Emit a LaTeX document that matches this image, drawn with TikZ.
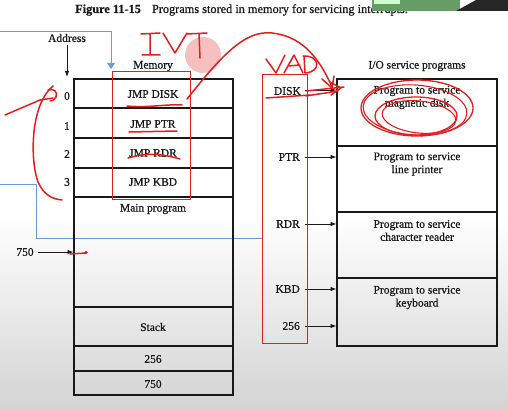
\documentclass[tikz,border=0pt]{standalone}
\usepackage{fontspec}
\setmainfont{Liberation Serif}
\newfontfamily\scanfont{Liberation Serif}[FakeBold=0.7]
\usetikzlibrary{arrows.meta,shapes.geometric}
\definecolor{penred}{RGB}{228,30,30}
\definecolor{selblue}{RGB}{110,155,215}
\definecolor{ink}{RGB}{25,25,25}
\begin{document}
\begin{tikzpicture}[x=1pt,y=-1pt,
  lbl/.style={font=\scanfont\fontsize{11.5}{13}\selectfont, text=ink, inner sep=0pt},
  frame/.style={draw=ink, line width=1.3pt},
  arr/.style={-{Latex[length=6pt,width=4.5pt]}, line width=0.9pt, draw=ink},
  hand/.style={draw=penred, line width=1.5pt, line cap=round, line join=round},
  penbox/.style={draw=penred, line width=1pt},
  sel/.style={draw=selblue, line width=0.7pt}]
\useasboundingbox (0,0) rectangle (508,409);
\fill[white] (0,0) rectangle (508,409);
\shade[top color=white, bottom color=black!17] (0,215) rectangle (508,409);

% selection lines (blue)
\draw[sel] (0,31) -- (111,31) -- (111,64);
\fill[selblue] (107,63) -- (115,63) -- (111,69) -- cycle;
\draw[sel] (0,184) -- (36,184) -- (36,238) -- (262,238);

% title
\node[anchor=west, font=\scanfont\fontsize{12.3}{14}\selectfont, text=ink, inner sep=0pt] (title) at (75,10)
  {\textbf{Figure 11-15}\hspace{0.9em}Programs stored in memory for servicing interrupts.};

% memory
\draw[frame] (74,79) rectangle (233,395);
\foreach \y in {108,138,168,197,307,346,371} \draw[frame] (74,\y) -- (233,\y);
\node[lbl] (memlbl) at (153,66) {Memory};
\node[lbl] (jdisk) at (153,94) {JMP DISK};
\node[lbl] (jptr) at (153,124) {JMP PTR};
\node[lbl] (jrdr) at (153,153) {JMP RDR};
\node[lbl] (jkbd) at (153,182) {JMP KBD};
\node[lbl] (mainp) at (153,209) {Main program};
\node[lbl] (stack) at (153,327) {Stack};
\node[lbl] (m256) at (153,359) {256};
\node[lbl] (m750) at (153,384) {750};

% addresses
\node[lbl] (addr) at (67,38) {Address};
\coordinate (addrend) at (67,77);
\draw[arr] (addr.south) ++(0,3) -- (addrend);
\node[lbl] (a0) at (67,96) {0};
\node[lbl] (a1) at (67,126) {1};
\node[lbl] (a2) at (67,154) {2};
\node[lbl] (a3) at (67,182) {3};
\node[lbl] (l750) at (25,252) {750};
\coordinate (m750in) at (73.5,252);
\draw[arr] (l750.east) ++(4,0) -- (m750in);

% I/O service programs
\draw[frame] (337,79) rectangle (497,346);
\foreach \y in {146,212,278} \draw[frame] (337,\y) -- (497,\y);
\node[lbl] (iolbl) at (417,66) {I/O service programs};
\node[lbl, align=center] (pdisk) at (417,97.5) {Program to service\\magnetic disk};
\node[lbl, align=center] (pptr) at (417,164) {Program to service\\line printer};
\node[lbl, align=center] (prdr) at (417,230.5) {Program to service\\character reader};
\node[lbl, align=center] (pkbd) at (417,297.5) {Program to service\\keyboard};

% vector addresses
\node[lbl, anchor=east] (vdisk) at (301,91) {DISK};
\node[lbl, anchor=east] (vptr) at (300,157) {PTR};
\node[lbl, anchor=east] (vrdr) at (300,224) {RDR};
\node[lbl, anchor=east] (vkbd) at (300,289) {KBD};
\node[lbl, anchor=east] (v256) at (300,326) {256};
\coordinate (tdisk) at (336.5,90);
\coordinate (tptr) at (336.5,157);
\coordinate (trdr) at (336.5,224);
\coordinate (tkbd) at (336.5,289);
\coordinate (t256) at (336.5,326);
\draw[arr] (vdisk.east) ++(4,-1) -- (tdisk);
\draw[arr] (vptr.east) ++(5,0) -- (tptr);
\draw[arr] (vrdr.east) ++(5,0) -- (trdr);
\draw[arr] (vkbd.east) ++(5,0) -- (tkbd);
\draw[arr] (v256.east) ++(5,0) -- (t256);

% red annotations
\fill[penred, opacity=0.28] (203,55) circle (18);
\draw[penbox] (112,72) rectangle (190,199);
\draw[penbox] (262,75) rectangle (307,343);
% IVT
\draw[hand] (141,34) -- (160,33) (150,34) -- (150,54) (142,55) -- (160,55);
\draw[hand] (163,33) -- (175,53) -- (187,33);
\draw[hand] (187,34) -- (207,33) (199,34) -- (200,58);
% VAD
\draw[hand] (266,59) -- (276,73) -- (285,55);
\draw[hand] (284,73) -- (294,55) -- (303,73) (288,66) -- (300,65);
\draw[hand] (304,56) -- (305,73) (303,56) .. controls (320,55) and (322,72) .. (305,73);
% big arrow IVT -> VAD
\draw[hand] (187,99) .. controls (222,55) and (245,30) .. (272,33) .. controls (300,36) and (318,55) .. (332,87);
\draw[hand] (322,79) -- (332,88) -- (334,76);
% DISK scribbles
\draw[hand] (266,98) -- (310,95);
\draw[hand] (306,91) -- (344,87) (306,96) -- (338,91);
\draw[hand] (330,82) -- (341,88) -- (331,95);
% underlines
\draw[hand] (127,106) .. controls (150,108) and (165,104) .. (182,105);
\draw[hand] (129,132) -- (177,131);
\draw[hand] (128,158) .. controls (145,153) and (160,153) .. (180,159);
% left annotations
\draw[hand] (5,115) -- (40,100) -- (53,98);
\draw[hand] (48,90) .. controls (54,88) and (58,92) .. (56,97) .. controls (55,100) and (52,101) .. (50,101);
\draw[hand] (53,86) .. controls (30,105) and (30,160) .. (38,182) .. controls (44,195) and (52,199) .. (62,200);
\draw[hand] (70,254) -- (86,253);
\fill[penred] (86,252.5) circle (1.8);
% circled "magnetic disk"
\draw[hand, line width=1.3pt] (417,108) ellipse [x radius=56, y radius=28];
\draw[hand, line width=1.1pt, rotate around={-4:(415,110)}] (415,110) ellipse [x radius=52, y radius=25];
\draw[hand, line width=1.3pt] (416,116) ellipse [x radius=41, y radius=19];
\draw[hand, line width=1.1pt, rotate around={-6:(419,117)}] (419,117) ellipse [x radius=37, y radius=16];

% screenshot fragment top right
\fill[green!35!black!60!white] (372,0) rectangle (460,11);
\fill[white!80!green] (374,0) rectangle (400,4);
\fill[black!85] (456,11) -- (476,0) -- (508,0) -- (508,11) -- cycle;
\end{tikzpicture}
\end{document}
